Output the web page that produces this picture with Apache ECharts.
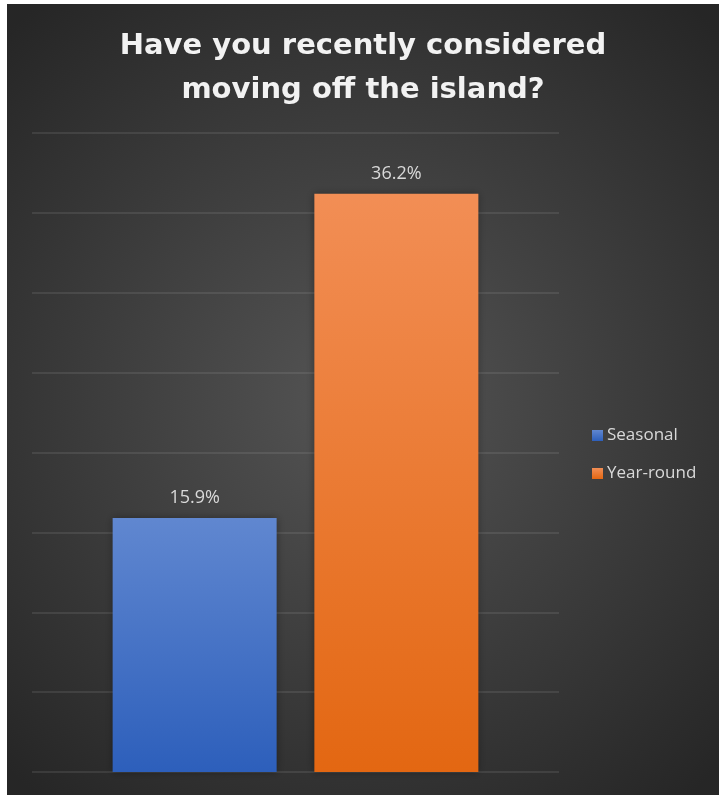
<!DOCTYPE html>
<html>
<head>
<meta charset="utf-8">
<script src="https://cdn.jsdelivr.net/npm/echarts@6/dist/echarts.min.js"></script>
<style>
html,body{margin:0;padding:0;background:#ffffff;width:719px;height:795px;overflow:hidden;}
#chart{position:absolute;left:7px;top:4px;width:712px;height:791px;}
</style>
</head>
<body>
<div id="chart"></div>
<script>
const titleText = 'Have you recently considered\nmoving off the island?';
const categories = [''];
const seriesNames = ['Seasonal', 'Year-round'];
const seasonalValues = [15.9];
const yearRoundValues = [36.2];
const yMin = 0, yMax = 40, yInterval = 5;

const chart = echarts.init(document.getElementById('chart'));

function grad(top, bottom) {
  return new echarts.graphic.LinearGradient(0, 0, 0, 1, [
    { offset: 0, color: top },
    { offset: 1, color: bottom }
  ]);
}

const labelStyle = {
  show: true,
  position: 'top',
  distance: 11,
  color: '#d9d9d9',
  fontFamily: 'Open Sans',
  fontSize: 18,
  formatter: p => p.value.toFixed(1) + '%'
};

chart.setOption({
  color: ['#4472c4', '#ed7d31'],
  backgroundColor: {
    type: 'radial', x: 0.5, y: 0.5, r: 0.72,
    colorStops: [
      { offset: 0, color: '#555555' },
      { offset: 1, color: '#262626' }
    ]
  },
  title: {
    text: titleText,
    left: 'center',
    top: 20,
    padding: 0,
    textStyle: {
      color: '#f2f2f2',
      fontFamily: 'DejaVu Sans',
      fontWeight: 'bold',
      fontSize: 29,
      lineHeight: 44
    }
  },
  legend: {
    orient: 'vertical',
    left: 580,
    top: 418,
    icon: 'rect',
    itemWidth: 11,
    itemHeight: 11,
    itemGap: 21,
    textStyle: {
      color: '#d9d9d9',
      fontFamily: 'Open Sans',
      fontSize: 17,
      lineHeight: 17,
      padding: [0, 0, 0, -1]
    },
    data: seriesNames
  },
  grid: { left: 25, right: 160, top: 129, bottom: 23, containLabel: false },
  xAxis: {
    type: 'category',
    data: categories,
    axisLine: { show: false },
    axisTick: { show: false },
    axisLabel: { show: false }
  },
  yAxis: {
    type: 'value',
    min: yMin, max: yMax, interval: yInterval,
    axisLine: { show: false },
    axisTick: { show: false },
    axisLabel: { show: false },
    splitLine: { lineStyle: { color: 'rgba(200,200,200,0.16)', width: 1.5 } }
  },
  series: [
    {
      name: seriesNames[0],
      type: 'bar',
      data: seasonalValues,
      barWidth: 164,
      barGap: '23%',
      itemStyle: {
        color: grad('#6087d0', '#2d5fbb'),
        shadowBlur: 8,
        shadowColor: 'rgba(0,0,0,0.35)'
      },
      label: labelStyle
    },
    {
      name: seriesNames[1],
      type: 'bar',
      data: yearRoundValues,
      barWidth: 164,
      barGap: '23%',
      itemStyle: {
        color: grad('#f28e55', '#e36712'),
        shadowBlur: 8,
        shadowColor: 'rgba(0,0,0,0.35)'
      },
      label: labelStyle
    }
  ]
});
</script>
</body>
</html>
